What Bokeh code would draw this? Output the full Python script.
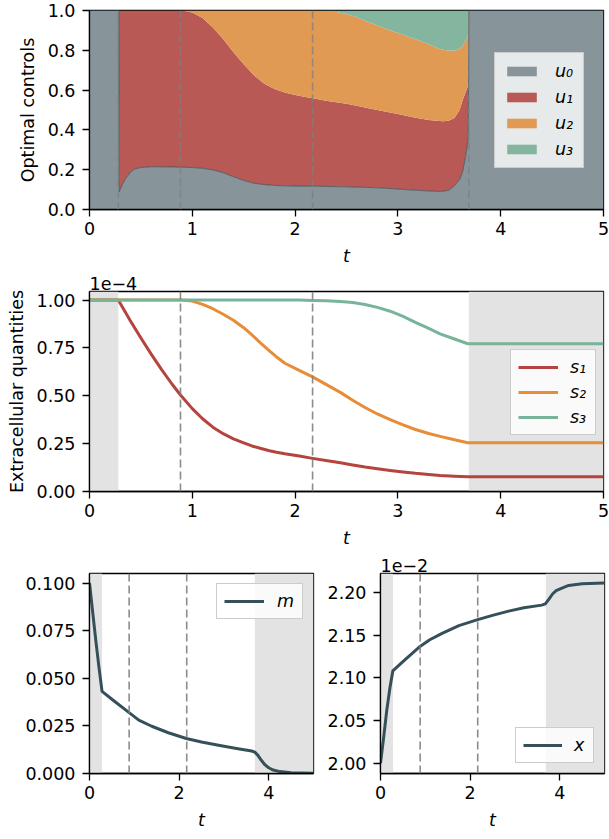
from bokeh.plotting import figure
from bokeh.models import (ColumnDataSource, Range1d, FixedTicker, NumeralTickFormatter,
                          BoxAnnotation, Span)
from bokeh.layouts import column, row
from bokeh.embed import file_html
from bokeh.resources import INLINE

FONT = "DejaVu Sans"
FS = "17.5px"

# switching times
t_start = 0.28
t_dash = [0.885, 2.17]
t_end = 3.69
t_max = 5.0

# optimal controls
t_u = [0.0, 0.285, 0.29, 0.32, 0.35, 0.4, 0.44, 0.5, 0.6, 0.8,
       0.9, 1.0, 1.1, 1.2, 1.3, 1.4, 1.5, 1.6, 1.7, 1.8,
       1.9, 2.0, 2.1, 2.2, 2.3, 2.4, 2.5, 2.6, 2.7, 2.8,
       2.9, 3.0, 3.1, 3.2, 3.3, 3.4, 3.45, 3.5, 3.55, 3.6,
       3.63, 3.66, 3.68, 3.685, 3.69, 5.0]
u0 = [1, 1, 0.09, 0.125, 0.155, 0.188, 0.203, 0.211, 0.215, 0.214,
      0.213, 0.211, 0.207, 0.199, 0.185, 0.165, 0.146, 0.132, 0.125, 0.121,
      0.119, 0.118, 0.1175, 0.117, 0.116, 0.115, 0.114, 0.1125, 0.111, 0.109,
      0.106, 0.103, 0.099, 0.096, 0.093, 0.091, 0.092, 0.098, 0.12, 0.15,
      0.19, 0.27, 0.34, 0.36, 1, 1]
u1 = [0, 0, 0.91, 0.875, 0.845, 0.812, 0.797, 0.789, 0.785, 0.786,
      0.787, 0.779, 0.755, 0.716, 0.672, 0.625, 0.584, 0.543, 0.507, 0.484,
      0.469, 0.458, 0.4475, 0.439, 0.431, 0.424, 0.417, 0.4085, 0.399, 0.391,
      0.384, 0.377, 0.369, 0.362, 0.357, 0.354, 0.352, 0.349, 0.34, 0.35,
      0.36, 0.32, 0.28, 0.27, 0, 0]
u2 = [0, 0, 0, 0, 0, 0, 0, 0, 0, 0,
      0, 0.01, 0.038, 0.085, 0.143, 0.21, 0.27, 0.325, 0.368, 0.395,
      0.412, 0.424, 0.435, 0.444, 0.451, 0.453, 0.451, 0.445, 0.435, 0.424,
      0.415, 0.407, 0.40, 0.392, 0.381, 0.363, 0.358, 0.352, 0.338, 0.306,
      0.272, 0.26, 0.255, 0.255, 0, 0]
u3 = [0, 0, 0, 0, 0, 0, 0, 0, 0, 0,
      0, 0, 0, 0, 0, 0, 0, 0, 0, 0,
      0, 0, 0, 0, 0.002, 0.008, 0.018, 0.034, 0.055, 0.076,
      0.095, 0.113, 0.132, 0.15, 0.169, 0.192, 0.198, 0.201, 0.202, 0.194,
      0.178, 0.15, 0.125, 0.115, 0, 0]
u_labels = ["u\u2080", "u\u2081", "u\u2082", "u\u2083"]

# extracellular quantities (x 1e-4)
t_s = [0.0, 0.28, 0.4, 0.5, 0.6, 0.7, 0.8, 0.885, 1.0, 1.1,
       1.2, 1.3, 1.4, 1.5, 1.58, 1.66, 1.75, 1.82, 1.9, 2.04,
       2.17, 2.3, 2.44, 2.56, 2.68, 2.8, 2.925, 3.05, 3.17, 3.3,
       3.41, 3.55, 3.68, 5.0]
s1 = [1.0, 1.0, 0.89, 0.802, 0.718, 0.638, 0.563, 0.504, 0.433, 0.38,
      0.336, 0.302, 0.275, 0.254, 0.238, 0.226, 0.213, 0.205, 0.197, 0.185,
      0.173, 0.162, 0.150, 0.139, 0.128, 0.119, 0.110, 0.102, 0.095, 0.089,
      0.084, 0.080, 0.077, 0.077]
s2 = [1.0, 1.0, 1.0, 1.0, 1.0, 1.0, 1.0, 1.0, 0.995, 0.978,
      0.955, 0.926, 0.895, 0.856, 0.818, 0.778, 0.735, 0.703, 0.670, 0.633,
      0.599, 0.560, 0.518, 0.477, 0.439, 0.405, 0.376, 0.348, 0.324, 0.303,
      0.288, 0.270, 0.255, 0.255]
s3 = [1.0, 1.0, 1.0, 1.0, 1.0, 1.0, 1.0, 1.0, 1.0, 1.0,
      1.0, 1.0, 1.0, 1.0, 1.0, 1.0, 1.0, 1.0, 1.0, 1.0,
      0.998, 0.997, 0.993, 0.987, 0.977, 0.962, 0.942, 0.915, 0.884, 0.852,
      0.824, 0.797, 0.772, 0.772]
s_labels = ["s\u2081", "s\u2082", "s\u2083"]
s_scale = "1e\u22124"

# m
t_m = [0.0, 0.07, 0.14, 0.21, 0.28, 0.5, 0.87, 1.1, 1.39, 1.76, 2.16, 2.5, 2.88, 3.25, 3.62,
       3.69, 3.76, 3.84, 3.92, 4.0, 4.1, 4.25, 4.5, 5.0]
m = [0.100, 0.085, 0.070, 0.056, 0.0431, 0.039, 0.0322, 0.028, 0.0248, 0.0214, 0.0184,
     0.0165, 0.0148, 0.0133, 0.0118, 0.0112, 0.0095, 0.0068, 0.0045, 0.003, 0.0018, 0.001,
     0.0004, 0.0001]

# x (x 1e-2)
t_x = [0.0, 0.07, 0.14, 0.21, 0.275, 0.5, 0.89, 1.1, 1.375, 1.75, 2.17, 2.5, 2.86, 3.2, 3.6,
       3.68, 3.76, 3.84, 3.92, 4.05, 4.2, 4.5, 5.0]
xv = [2.000, 2.030, 2.062, 2.088, 2.108, 2.119, 2.137, 2.1445, 2.152, 2.161, 2.168, 2.173,
      2.178, 2.182, 2.185, 2.1865, 2.192, 2.198, 2.202, 2.205, 2.208, 2.210, 2.211]
x_scale = "1e\u22122"

# ticks
x_ticks_wide = [0, 1, 2, 3, 4, 5]
x_ticks_small = [0, 2, 4]
u_ticks = [0.0, 0.2, 0.4, 0.6, 0.8, 1.0]
s_ticks = [0.0, 0.25, 0.5, 0.75, 1.0]
m_ticks = [0.0, 0.025, 0.05, 0.075, 0.1]
x_ticks = [2.0, 2.05, 2.1, 2.15, 2.2]

U_COLORS = ["#87949a", "#b85956", "#e09a54", "#84b69f"]
S_COLORS = ["#b5443f", "#e78c37", "#78b49a"]
DARK = "#36505a"
SHADE = "#e3e3e3"
DASH = "#7f7f7f"


def make_fig(fw, fh, yr, bl, br, bt, bb, title=None):
    kw = dict(frame_width=fw, frame_height=fh, x_range=Range1d(0, t_max), y_range=yr,
              min_border_left=bl, min_border_right=br, min_border_top=bt,
              min_border_bottom=bb, output_backend="svg", toolbar_location=None,
              background_fill_color="white", border_fill_color="white")
    if title is not None:
        kw["title"] = title
    p = figure(**kw)
    if title is not None:
        p.title.text_font = FONT
        p.title.text_font_size = FS
        p.title.text_font_style = "normal"
        p.title.text_color = "black"
        p.title.align = "left"
        p.title.vertical_align = "top"
        p.title.standoff = 0
        p.title.offset = 0
    p.xgrid.visible = False
    p.ygrid.visible = False
    p.outline_line_color = "black"
    p.outline_line_width = 1.3
    p.outline_line_alpha = 1
    for ax in (p.xaxis[0], p.yaxis[0]):
        ax.axis_line_color = "black"
        ax.axis_line_width = 1.3
        ax.major_tick_line_width = 1.3
        ax.major_tick_in = 0
        ax.major_tick_out = 7
        ax.minor_tick_line_color = None
        ax.major_label_text_font = FONT
        ax.major_label_text_font_size = FS
        ax.major_label_text_color = "black"
        ax.axis_label_text_font = FONT
        ax.axis_label_text_font_size = FS
        ax.axis_label_text_color = "black"
    p.xaxis.major_label_standoff = 5
    p.yaxis.major_label_standoff = 7
    p.xaxis.axis_label = "t"
    p.xaxis.axis_label_text_font_style = "italic"
    p.xaxis.axis_label_standoff = 8
    p.yaxis.axis_label_text_font_style = "normal"
    p.yaxis.axis_label_standoff = 7
    return p


def shade(p):
    p.add_layout(BoxAnnotation(left=0, right=t_start, fill_color=SHADE, fill_alpha=1,
                               line_alpha=0, level="underlay"))
    p.add_layout(BoxAnnotation(left=t_end, right=t_max, fill_color=SHADE, fill_alpha=1,
                               line_alpha=0, level="underlay"))


def dashes(p, times, alpha=0.9):
    for tt in times:
        p.add_layout(Span(location=tt, dimension="height", line_color=DASH,
                          line_dash="8 4", line_width=1.6, line_alpha=alpha))


def style_legend(p, loc, glyph_w, glyph_h, standoff, label_w, padding, spacing, margin):
    lg = p.legend[0]
    lg.location = loc
    lg.margin = margin
    lg.background_fill_color = "white"
    lg.background_fill_alpha = 0.8
    lg.border_line_color = "#cccccc"
    lg.border_line_width = 1
    lg.border_line_alpha = 1
    lg.label_text_font = FONT
    lg.label_text_font_size = FS
    lg.label_text_font_style = "italic"
    lg.label_text_color = "black"
    lg.glyph_width = glyph_w
    lg.glyph_height = glyph_h
    lg.label_standoff = standoff
    lg.label_width = label_w
    lg.label_height = 20
    lg.padding = padding
    lg.spacing = spacing


# ---------- top: optimal controls ----------
src_u = ColumnDataSource(dict(t=t_u, u0=u0, u1=u1, u2=u2, u3=u3))
p1 = make_fig(514, 199, Range1d(0, 1), 89, 6, 10, 60)
p1.varea_stack(["u0", "u1", "u2", "u3"], x="t", source=src_u, color=U_COLORS,
               legend_label=u_labels)
p1.line(x="t", y="u0", source=src_u, line_color=DARK, line_width=0.9, line_alpha=0.8)
dashes(p1, [t_start] + t_dash + [t_end], alpha=0.75)
p1.xaxis.ticker = FixedTicker(ticks=x_ticks_wide)
p1.xaxis.formatter = NumeralTickFormatter(format="0")
p1.yaxis.ticker = FixedTicker(ticks=u_ticks)
p1.yaxis.formatter = NumeralTickFormatter(format="0.0")
p1.yaxis.axis_label = "Optimal controls"
style_legend(p1, (405, 41), 37, 12, 15, 20, 8, 6, 0)

# ---------- middle: extracellular ----------
p2 = make_fig(514, 200, Range1d(0, 1.045), 89, 6, 22, 60, title=s_scale)
shade(p2)
dashes(p2, t_dash)
for ys, c, lab in zip([s1, s2, s3], S_COLORS, s_labels):
    p2.line(t_s, ys, line_color=c, line_width=3, line_join="round", legend_label=lab)
p2.xaxis.ticker = FixedTicker(ticks=x_ticks_wide)
p2.xaxis.formatter = NumeralTickFormatter(format="0")
p2.yaxis.ticker = FixedTicker(ticks=s_ticks)
p2.yaxis.formatter = NumeralTickFormatter(format="0.00")
p2.yaxis.axis_label = "Extracellular quantities"
style_legend(p2, (421, 56), 40, 14, 12, 18, 7, 5, 0)

# ---------- bottom left: m ----------
p3 = make_fig(224, 200, Range1d(0, 0.105), 89, 7, 22, 60, title=" ")
shade(p3)
dashes(p3, t_dash)
p3.line(t_m, m, line_color=DARK, line_width=3, line_join="round", legend_label="m")
p3.xaxis.ticker = FixedTicker(ticks=x_ticks_small)
p3.xaxis.formatter = NumeralTickFormatter(format="0")
p3.yaxis.ticker = FixedTicker(ticks=m_ticks)
p3.yaxis.formatter = NumeralTickFormatter(format="0.000")
style_legend(p3, "top_right", 40, 14, 13, 18, 7, 7, 10)

# ---------- bottom right: x ----------
p4 = make_fig(224, 200, Range1d(1.988, 2.222), 60, 5, 22, 60, title=x_scale)
shade(p4)
dashes(p4, t_dash)
p4.line(t_x, xv, line_color=DARK, line_width=3, line_join="round", legend_label="x")
p4.xaxis.ticker = FixedTicker(ticks=x_ticks_small)
p4.xaxis.formatter = NumeralTickFormatter(format="0")
p4.yaxis.ticker = FixedTicker(ticks=x_ticks)
p4.yaxis.formatter = NumeralTickFormatter(format="0.00")
style_legend(p4, "bottom_right", 39, 14, 12, 12, 7, 7, 10)

layout = column(p1, p2, row(p3, p4))

open("out.html", "w").write(file_html(layout, INLINE))
